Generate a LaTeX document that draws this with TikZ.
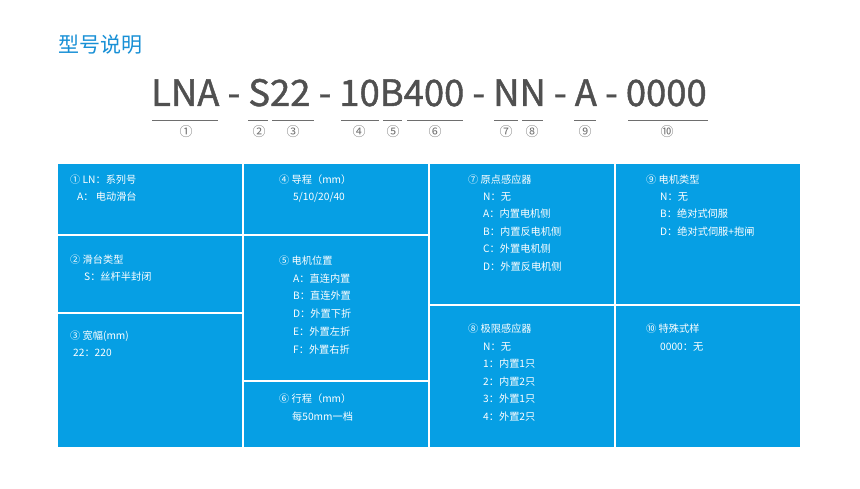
\documentclass[tikz,border=0pt]{standalone}
\usepackage{fontspec}
\setmainfont{Noto Sans CJK SC}
\newfontfamily\codefont{Noto Sans CJK SC}[FakeBold=1.2]
\definecolor{cellblue}{RGB}{6,159,228}
\definecolor{titleblue}{RGB}{24,144,214}
\definecolor{codegray}{RGB}{80,80,80}
\definecolor{linegray}{RGB}{110,110,110}
\begin{document}
\begin{tikzpicture}[x=1pt,y=-1pt,
  celltxt/.style={anchor=base west,inner sep=0pt,text=white,font=\fontsize{10.2}{12}\selectfont},
  numtxt/.style={anchor=center,inner sep=0pt,text=linegray,font=\fontsize{13}{14}\selectfont},
  uline/.style={draw=linegray,line width=0.8pt},
  cellbox/.style={fill=cellblue}]
\useasboundingbox (0,0) rectangle (860,489);
\fill[white] (0,0) rectangle (860,489);
% title
\node[anchor=base west,inner sep=0pt,text=titleblue,font=\fontsize{21}{24}\selectfont] (title) at (58,52.5) {型号说明};
% code
\node[anchor=base west,inner sep=0pt,text=codegray,font=\codefont\fontsize{36.4}{40}\selectfont] (code) at (151,106) {LNA - S22 - 10B400 - NN - A - 0000};
% underlines
\draw[uline] (152,120) -- (218,120);
\draw[uline] (248,120) -- (268,120);
\draw[uline] (272,120) -- (314,120);
\draw[uline] (341,120) -- (379,120);
\draw[uline] (383,120) -- (402,120);
\draw[uline] (407,120) -- (463,120);
\draw[uline] (494,120) -- (518,120);
\draw[uline] (522,120) -- (543,120);
\draw[uline] (574,120) -- (596,120);
\draw[uline] (628,120) -- (708,120);
% numbers
\node[numtxt] (n1) at (186,132) {①};
\node[numtxt] (n2) at (259,132) {②};
\node[numtxt] (n3) at (293,132) {③};
\node[numtxt] (n4) at (359,132) {④};
\node[numtxt] (n5) at (393,132) {⑤};
\node[numtxt] (n6) at (435,132) {⑥};
\node[numtxt] (n7) at (506,132) {⑦};
\node[numtxt] (n8) at (532,132) {⑧};
\node[numtxt] (n9) at (585,132) {⑨};
\node[numtxt] (n10) at (667,132) {⑩};
% cells
\path[cellbox] (58,164) rectangle (242,234);
\path[cellbox] (58,236) rectangle (242,312);
\path[cellbox] (58,314) rectangle (242,447);
\path[cellbox] (244,164) rectangle (428,234);
\path[cellbox] (244,236) rectangle (428,380);
\path[cellbox] (244,382) rectangle (428,447);
\path[cellbox] (430,164) rectangle (614,304);
\path[cellbox] (430,306) rectangle (614,447);
\path[cellbox] (616,164) rectangle (800,304);
\path[cellbox] (616,306) rectangle (800,447);
% column 1
\node[celltxt] (c1a) at (70,183.5) {① LN：系列号};
\node[celltxt] (c1b) at (77,200.5) {A： 电动滑台};
\node[celltxt] (c2a) at (70,263.5) {② 滑台类型};
\node[celltxt] (c2b) at (84,280.5) {S：丝杆半封闭};
\node[celltxt] (c3a) at (70,339.5) {③ 宽幅(mm)};
\node[celltxt] (c3b) at (73,356.5) {22：220};
% column 2
\node[celltxt] (c4a) at (279,183.5) {④ 导程（mm）};
\node[celltxt] (c4b) at (293,200.5) {5/10/20/40};
\node[celltxt] (c5a) at (279,265) {⑤ 电机位置};
\node[celltxt] (c5b) at (293,282.5) {A：直连内置};
\node[celltxt] (c5c) at (293,300) {B：直连外置};
\node[celltxt] (c5d) at (293,318) {D：外置下折};
\node[celltxt] (c5e) at (293,335.5) {E：外置左折};
\node[celltxt] (c5f) at (293,353) {F：外置右折};
\node[celltxt] (c6a) at (279,402.5) {⑥ 行程（mm）};
\node[celltxt] (c6b) at (292,420.5) {每50mm一档};
% column 3
\node[celltxt] (c7a) at (468,183.5) {⑦ 原点感应器};
\node[celltxt] (c7b) at (483,200.5) {N：无};
\node[celltxt] (c7c) at (483,218) {A：内置电机侧};
\node[celltxt] (c7d) at (483,235.5) {B：内置反电机侧};
\node[celltxt] (c7e) at (483,253) {C：外置电机侧};
\node[celltxt] (c7f) at (483,270.5) {D：外置反电机侧};
\node[celltxt] (c8a) at (468,332.5) {⑧ 极限感应器};
\node[celltxt] (c8b) at (483,350) {N：无};
\node[celltxt] (c8c) at (483,367.5) {1：内置1只};
\node[celltxt] (c8d) at (483,385) {2：内置2只};
\node[celltxt] (c8e) at (483,402.5) {3：外置1只};
\node[celltxt] (c8f) at (483,420) {4：外置2只};
% column 4
\node[celltxt] (c9a) at (646,183.5) {⑨ 电机类型};
\node[celltxt] (c9b) at (660,200.5) {N：无};
\node[celltxt] (c9c) at (660,218) {B：绝对式伺服};
\node[celltxt] (c9d) at (660,235.5) {D：绝对式伺服+抱闸};
\node[celltxt] (c10a) at (646,332.5) {⑩ 特殊式样};
\node[celltxt] (c10b) at (660,350) {0000：无};
\end{tikzpicture}
\end{document}
